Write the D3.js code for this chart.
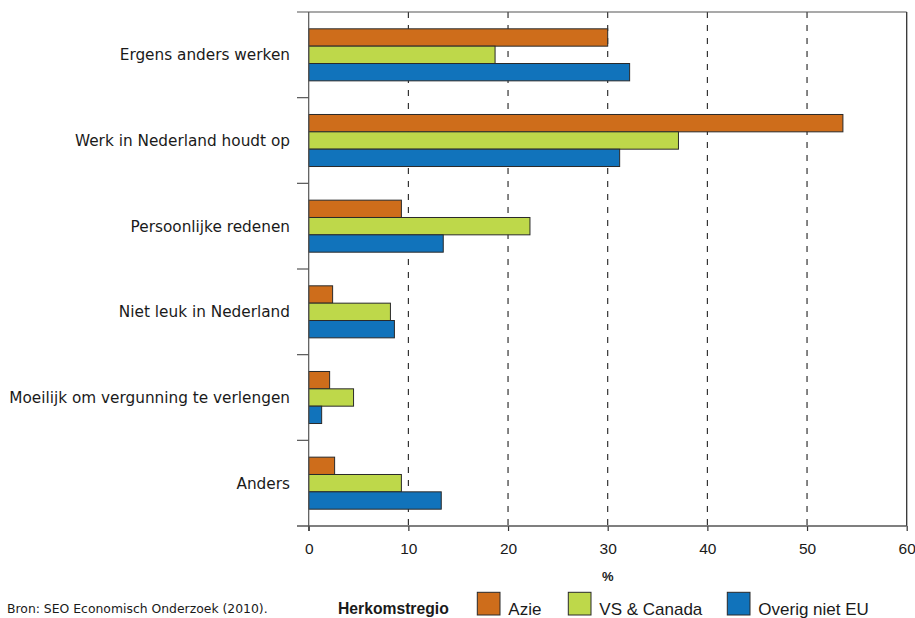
<!DOCTYPE html>
<html><head><meta charset="utf-8">
<script src="https://cdn.jsdelivr.net/npm/d3@7"></script>
<style>
body{margin:0;background:#fff;}
text{font-family:"Liberation Sans",Arial,sans-serif;fill:#1a1a1a;}
</style></head>
<body><svg id="c" width="915" height="618"></svg>
<script>
const categories = ["Ergens anders werken","Werk in Nederland houdt op","Persoonlijke redenen","Niet leuk in Nederland","Moeilijk om vergunning te verlengen","Anders"];
const seriesNames = ["Azie","VS & Canada","Overig niet EU"];
const azie = [30.0, 53.6, 9.3, 2.4, 2.1, 2.6];
const vsCanada = [18.7, 37.1, 22.2, 8.2, 4.5, 9.3];
const overig = [32.2, 31.2, 13.5, 8.6, 1.3, 13.3];
const xTicks = [0,10,20,30,40,50,60];
const colors = ["#ce6d1b","#bed84a","#1173bb"];
const seriesValues = [azie, vsCanada, overig];

const svg = d3.select("#c");
const L = 308.7, R = 906.7, T = 12, B = 526;
const x = d3.scaleLinear().domain([0,60]).range([L,R]);
const y = d3.scaleBand().domain(categories).range([T,B]).paddingInner(0).paddingOuter(0);
const y1 = d3.scaleBand().domain(seriesNames).range([0,y.bandwidth()]).paddingInner(0).paddingOuter(0.97);

// gridlines
svg.append("g").selectAll("line").data(xTicks.filter(t=>t>0&&t<60)).join("line")
  .attr("x1",d=>x(d)).attr("x2",d=>x(d)).attr("y1",T).attr("y2",B)
  .attr("stroke","#222").attr("stroke-width",1.1).attr("stroke-dasharray","6,7");

// frame
const axC = "#555";
svg.append("line").attr("x1",297).attr("x2",R).attr("y1",T).attr("y2",T).attr("stroke",axC).attr("stroke-width",1.2);
svg.append("line").attr("x1",R).attr("x2",R).attr("y1",T).attr("y2",B).attr("stroke","#333").attr("stroke-width",1.3);

// bars
categories.forEach((c,i)=>{
  seriesNames.forEach((s,j)=>{
    svg.append("rect")
      .attr("x",x(0)).attr("y",y(c)+y1(s))
      .attr("width",x(seriesValues[j][i])-x(0)).attr("height",y1.bandwidth())
      .attr("fill",colors[j]).attr("stroke","#2a2a2a").attr("stroke-width",1);
  });
});

// y axis
const yAx = svg.append("g");
yAx.append("line").attr("x1",L).attr("x2",L).attr("y1",T).attr("y2",B+5).attr("stroke",axC).attr("stroke-width",1.2);
yAx.selectAll("line.t").data(categories.slice(1)).join("line").attr("class","t")
  .attr("x1",297).attr("x2",L).attr("y1",d=>y(d)).attr("y2",d=>y(d)).attr("stroke",axC).attr("stroke-width",1.2);
yAx.selectAll("text").data(categories).join("text")
  .attr("x",290).attr("y",d=>y(d)+y.bandwidth()/2).attr("dy","0.35em")
  .attr("text-anchor","end").attr("font-size",15.3).style("font-family","'DejaVu Sans',sans-serif").text(d=>d);

// x axis
const xAx = svg.append("g").attr("transform",`translate(0,${B})`)
  .call(d3.axisBottom(x).tickValues(xTicks).tickSize(5).tickPadding(12).tickSizeOuter(0));
xAx.select(".domain").remove();
xAx.selectAll(".tick line").attr("stroke","#333").attr("stroke-width",1.2);
xAx.selectAll(".tick text").attr("font-size",15.5).attr("font-family","Liberation Sans, Arial, sans-serif").attr("fill","#1a1a1a");
svg.append("line").attr("x1",297).attr("x2",R).attr("y1",B).attr("y2",B).attr("stroke",axC).attr("stroke-width",1.3);

svg.append("text").attr("x",x(30)).attr("y",576).attr("dy","0.35em").attr("text-anchor","middle")
  .attr("font-size",13).attr("font-weight","bold").text("%");

// footer
svg.append("text").attr("x",7).attr("y",609).attr("dy","0.35em").attr("font-size",12.4).style("font-family","'DejaVu Sans',sans-serif").attr("fill","#333").text("Bron: SEO Economisch Onderzoek (2010).");
svg.append("text").attr("x",338).attr("y",609).attr("dy","0.35em").attr("font-size",15.7).attr("font-weight","bold").text("Herkomstregio");
const legX = [477.3, 568.3, 727.3];
seriesNames.forEach((s,j)=>{
  svg.append("rect").attr("x",legX[j]).attr("y",592.3).attr("width",22.7).attr("height",22.7)
    .attr("fill",colors[j]).attr("stroke","#2a2a2a").attr("stroke-width",1);
  svg.append("text").attr("x",legX[j]+31).attr("y",609).attr("dy","0.35em").attr("font-size",17).text(s);
});
</script></body></html>
